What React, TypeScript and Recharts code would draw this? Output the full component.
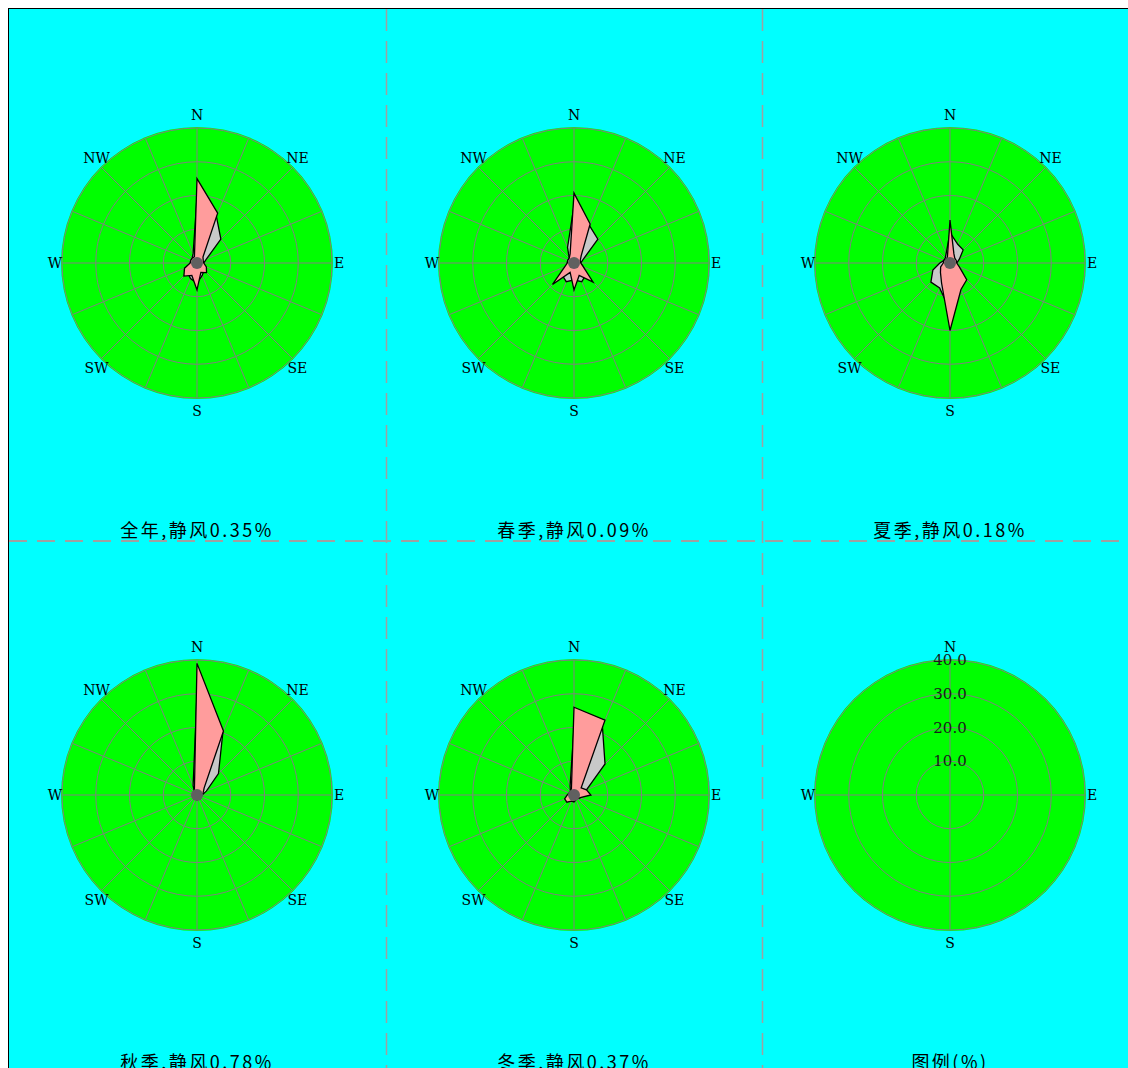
import React from "react";
import { RadarChart, PolarGrid, PolarAngleAxis, PolarRadiusAxis, Radar } from "recharts";

const directions = ["N", "NNE", "NE", "ENE", "E", "ESE", "SE", "SSE", "S", "SSW", "SW", "WSW", "W", "WNW", "NW", "NNW"];
const labeledDirections = ["N", "NE", "E", "SE", "S", "SW", "W", "NW"];

// frequency (%) – pink polygon
const annualFreq = [25, 16, 2.5, 2, 2, 3, 4, 3, 8, 4, 5.5, 4, 2, 2, 2, 2];
const springFreq = [20.7, 12.5, 3, 2, 2, 3, 8, 4, 8, 3, 9, 3, 2, 2, 2, 3];
const summerFreq = [12.7, 3, 2, 2, 2, 3, 7, 8.5, 20, 6.5, 4, 3, 2, 2, 1.5, 2];
const autumnFreq = [39, 20.5, 3, 2, 1.5, 1, 1, 1, 1.5, 1, 1, 1, 1, 1, 1, 2];
const winterFreq = [26, 24, 3, 4, 5, 2, 1.5, 1.5, 2, 2, 3, 3, 2, 1.5, 1.5, 2];

// second series – gray polygon
const annualGray = [19.5, 15, 10, 3, 2, 2, 3, 4, 6, 5, 4, 3, 2, 2, 2, 3];
const springGray = [17, 12, 10, 3, 2, 3, 5, 6, 5, 6, 5, 2, 2, 2, 2, 5];
const summerGray = [9, 6, 5.5, 3, 2, 2, 4, 5, 14, 8, 8, 5.5, 3, 2, 2, 3];
const autumnGray = [30, 20, 9, 3, 1.5, 1, 1, 1, 1.5, 1, 1, 1, 1, 1, 1, 3];
const winterGray = [20, 22, 13, 4, 3, 2, 1.5, 1.5, 2, 2, 2.5, 2, 1.5, 1.5, 1.5, 3];

const panelTitles = ["全年,静风0.35%", "春季,静风0.09%", "夏季,静风0.18%", "秋季,静风0.78%", "冬季,静风0.37%"];
const legendDirections = ["N", "E", "S", "W"];
const legendRings = [10, 20, 30, 40];
const legendTitle = "图例(%)";

const panels = [
  { title: panelTitles[0], freq: annualFreq, gray: annualGray },
  { title: panelTitles[1], freq: springFreq, gray: springGray },
  { title: panelTitles[2], freq: summerFreq, gray: summerGray },
  { title: panelTitles[3], freq: autumnFreq, gray: autumnGray },
  { title: panelTitles[4], freq: winterFreq, gray: winterGray },
];

const PW = 376;
const PH = 532;
const CX = 188;
const CY = 254;
const R = 135;
const RINGS = [R / 4, R / 2, (3 * R) / 4, R];
const lefts = [0, 377, 753];
const tops = [0, 532];

const labelFont = "'DejaVu Serif', 'Liberation Serif', serif";
const titleFont = "'Noto Sans CJK SC', sans-serif";

const DirTick = (props: any) => {
  const { payload } = props;
  const label = payload?.value;
  if (!labeledDirections.includes(label)) return null;
  const rad = (-payload.coordinate * Math.PI) / 180;
  const x = CX + Math.cos(rad) * 142;
  const y = CY + Math.sin(rad) * 148;
  return (
    <text x={x} y={y} textAnchor="middle" dominantBaseline="central" fontFamily={labelFont} fontSize={14} fill="#000">
      {label}
    </text>
  );
};

const RingTick = (props: any) => {
  const { x, y, payload } = props;
  if (!legendRings.includes(payload?.value)) return null;
  return (
    <text x={x} y={y} textAnchor="middle" dominantBaseline="central" fontFamily={labelFont} fontSize={15} fill="#1a1a1a">
      {Number(payload.value).toFixed(1)}
    </text>
  );
};

const GreenDisk = () => (
  <div
    style={{
      position: "absolute",
      left: CX - R - 1,
      top: CY - R - 1,
      width: 2 * R + 2,
      height: 2 * R + 2,
      borderRadius: "50%",
      background: "#00ff00",
    }}
  />
);

const CenterDot = () => (
  <div
    style={{
      position: "absolute",
      left: CX - 6,
      top: CY - 6,
      width: 12,
      height: 12,
      borderRadius: "50%",
      background: "#606060",
    }}
  />
);

const Title = ({ text }: { text: string }) => (
  <div
    style={{
      position: "absolute",
      left: 0,
      width: PW,
      top: 508,
      textAlign: "center",
      fontFamily: titleFont,
      fontSize: 18,
      lineHeight: "24px",
      letterSpacing: 2.5,
      color: "#000",
    }}
  >
    {text}
  </div>
);

const RosePanel = ({ freq, gray, title, left, top }: any) => {
  const data = directions.map((d, i) => ({ dir: d, freq: freq[i], gray: gray[i] }));
  return (
    <div style={{ position: "absolute", left, top, width: PW, height: PH }}>
      <GreenDisk />
      <div style={{ position: "absolute", left: 0, top: 0 }}>
        <RadarChart width={PW} height={PH} data={data} cx={CX} cy={CY} outerRadius={R} startAngle={90} endAngle={-270} margin={{ top: 0, right: 0, bottom: 0, left: 0 }}>
          <PolarGrid gridType="circle" polarRadius={RINGS} stroke="#808080" strokeWidth={1} />
          <PolarAngleAxis dataKey="dir" tick={<DirTick />} axisLine={false} tickLine={false} />
          <PolarRadiusAxis domain={[0, 40]} tick={false} axisLine={false} />
          <Radar dataKey="gray" fill="#c8c8c8" fillOpacity={1} stroke="#000" strokeWidth={1.3} dot={false} isAnimationActive={false} />
          <Radar dataKey="freq" fill="#ff9c9c" fillOpacity={1} stroke="#000" strokeWidth={1.3} dot={false} isAnimationActive={false} />
        </RadarChart>
      </div>
      <CenterDot />
      <Title text={title} />
    </div>
  );
};

const LegendPanel = ({ left, top }: any) => {
  const data = legendDirections.map((d) => ({ dir: d, v: 0 }));
  return (
    <div style={{ position: "absolute", left, top, width: PW, height: PH }}>
      <GreenDisk />
      <div style={{ position: "absolute", left: 0, top: 0 }}>
        <RadarChart width={PW} height={PH} data={data} cx={CX} cy={CY} outerRadius={R} startAngle={90} endAngle={-270} margin={{ top: 0, right: 0, bottom: 0, left: 0 }}>
          <PolarGrid gridType="circle" polarRadius={RINGS} stroke="#808080" strokeWidth={1} />
          <PolarAngleAxis dataKey="dir" tick={<DirTick />} axisLine={false} tickLine={false} />
          <PolarRadiusAxis angle={90} domain={[0, 40]} ticks={legendRings as any} tick={<RingTick />} axisLine={false} tickLine={false} />
          <Radar dataKey="v" fill="none" stroke="none" dot={false} isAnimationActive={false} />
        </RadarChart>
      </div>
      <Title text={legendTitle} />
    </div>
  );
};

export default function App() {
  return (
    <div
      style={{
        position: "fixed",
        left: 8,
        top: 8,
        width: 1120,
        height: 1060,
        overflow: "hidden",
        background: "#00ffff",
        borderLeft: "1px solid #000",
        borderTop: "1px solid #000",
      }}
    >
      {panels.map((p, i) => (
        <RosePanel key={i} freq={p.freq} gray={p.gray} title={p.title} left={lefts[i % 3]} top={tops[Math.floor(i / 3)]} />
      ))}
      <LegendPanel left={lefts[2]} top={tops[1]} />
      <svg style={{ position: "absolute", left: 0, top: 0 }} width={1120} height={1060}>
        <line x1={377.5} y1={0} x2={377.5} y2={1060} stroke="#a0a0a0" strokeWidth={1.5} strokeDasharray="22 10" />
        <line x1={753.5} y1={0} x2={753.5} y2={1060} stroke="#a0a0a0" strokeWidth={1.5} strokeDasharray="22 10" />
        <line x1={0} y1={532} x2={1120} y2={532} stroke="#a0a0a0" strokeWidth={2} strokeDasharray="18 10" />
      </svg>
    </div>
  );
}
